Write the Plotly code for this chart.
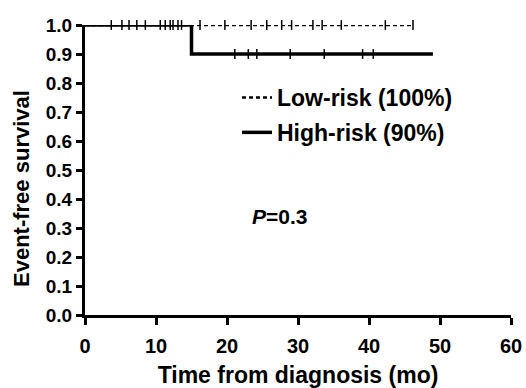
import plotly.graph_objects as go

# Kaplan-Meier step data
low_t = [0, 46.2]
low_s = [1.0, 1.0]
high_t = [0, 15, 49]
high_s = [1.0, 0.9, 0.9]

# censoring marks
low_cens_t = [3.7, 5.2, 6.2, 7.3, 8.5, 10.6, 11.3, 12.0, 12.4, 13.1, 13.6,
              16.2, 19.7, 23.4, 25.6, 27.7, 29.1, 32.1, 33.4, 36.1, 42.3, 46.2]
low_cens_s = [1.0] * len(low_cens_t)
high_cens_t = [21.1, 23.0, 24.2, 28.9, 33.7, 39.1, 40.6]
high_cens_s = [0.9] * len(high_cens_t)

x_ticks = [0, 10, 20, 30, 40, 50, 60]
y_ticks = [0.0, 0.1, 0.2, 0.3, 0.4, 0.5, 0.6, 0.7, 0.8, 0.9, 1.0]

FONT = "Liberation Sans"

fig = go.Figure()
fig.add_trace(go.Scatter(
    x=low_t, y=low_s, mode="lines", line=dict(color="black", width=2.5, dash="4px,3px", shape="hv"),
    name="<b>Low-risk (100%)</b>", legendgroup="a", cliponaxis=False))
fig.add_trace(go.Scatter(
    x=high_t, y=high_s, mode="lines", line=dict(color="black", width=3.5, shape="hv"),
    name="<b>High-risk (90%)</b>", legendgroup="b", cliponaxis=False))
fig.add_trace(go.Scatter(
    x=low_cens_t, y=low_cens_s, mode="markers",
    marker=dict(symbol="line-ns-open", size=7, color="black", line=dict(color="black", width=1.5)),
    showlegend=False, cliponaxis=False))
fig.add_trace(go.Scatter(
    x=high_cens_t, y=high_cens_s, mode="markers",
    marker=dict(symbol="line-ns-open", size=7, color="black", line=dict(color="black", width=1.5)),
    showlegend=False, cliponaxis=False))

fig.add_annotation(x=(250 - 85) / 426, y=(315 - 216) / 290, xref="paper", yref="paper",
                   xanchor="left", yanchor="middle",
                   text="<b><i>P</i>=0.3</b>", showarrow=False,
                   font=dict(family=FONT, size=21, color="black"))

# y-axis title as a rotated annotation (sits slightly below the plot centre in the reference)
fig.add_annotation(x=(21 - 85) / 426, y=(315 - 189) / 290, xref="paper", yref="paper",
                   xanchor="center", yanchor="middle", textangle=-90,
                   text="<b>Event-free survival</b>", showarrow=False,
                   font=dict(family=FONT, size=22, color="black"))

fig.update_layout(
    width=526, height=388,
    margin=dict(l=85, r=15, t=25, b=73),
    paper_bgcolor="white", plot_bgcolor="white",
    font=dict(family=FONT, color="black"),
    showlegend=True,
    legend=dict(x=(237 - 85) / 426, y=(315 - 76) / 290, xanchor="left", yanchor="top",
                font=dict(family=FONT, size=23, color="black"),
                traceorder="grouped", tracegroupgap=2,
                bgcolor="rgba(0,0,0,0)"),
    xaxis=dict(range=[0, 60], tickvals=x_ticks, ticktext=[f"<b>{v}</b>" for v in x_ticks],
               showline=True, linecolor="black", linewidth=3, ticks="outside", ticklen=7,
               tickwidth=3, tickcolor="black", showgrid=False, zeroline=False, automargin=False,
               ticklabelstandoff=4,
               tickfont=dict(family=FONT, size=20, color="black"),
               title=dict(text="<b>Time from diagnosis (mo)</b>", font=dict(family=FONT, size=23), standoff=14)),
    yaxis=dict(range=[0, 1.0], tickvals=y_ticks, ticktext=[f"<b>{v:.1f}</b>" for v in y_ticks],
               showline=True, linecolor="black", linewidth=3, ticks="outside", ticklen=6,
               tickwidth=2.5, tickcolor="black", showgrid=False, zeroline=False, automargin=False,
               tickfont=dict(family=FONT, size=19, color="black")),
)

fig.write_html("out.html", config={"displayModeBar": False},
               post_script="document.body.style.margin='0';document.body.style.overflow='hidden';")
